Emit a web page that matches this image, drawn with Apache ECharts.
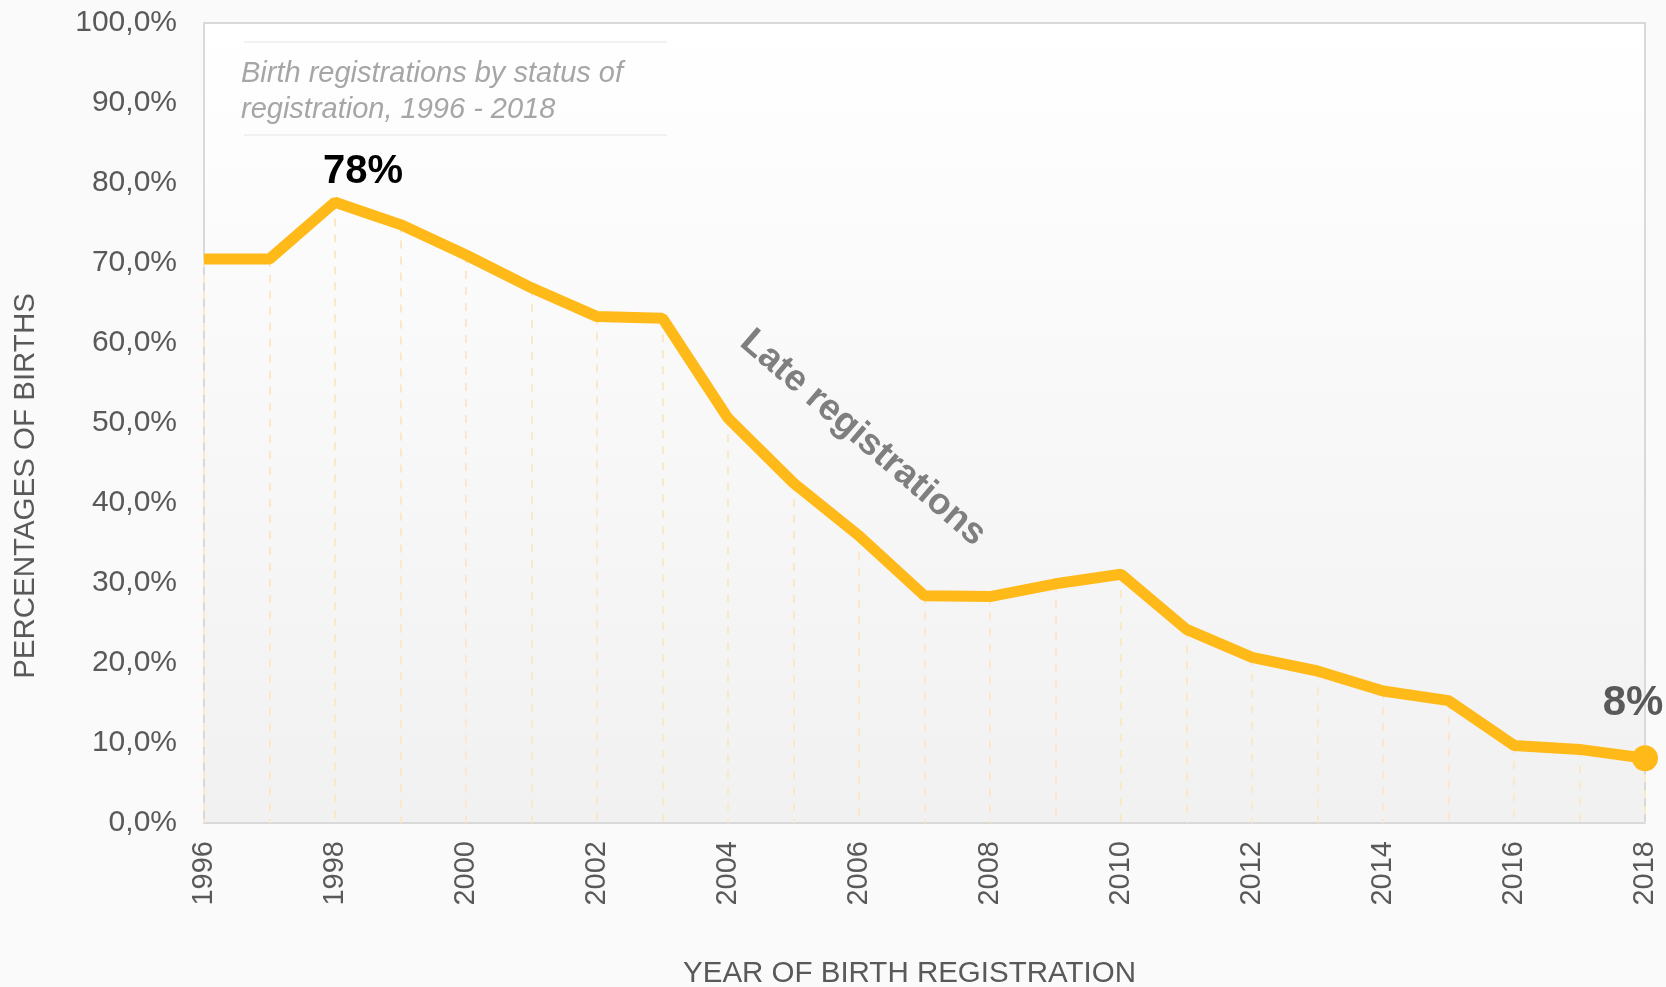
<!DOCTYPE html>
<html>
<head>
<meta charset="utf-8">
<script src="https://cdn.jsdelivr.net/npm/echarts@6/dist/echarts.min.js"></script>
<style>
  html, body { margin: 0; padding: 0; background: #fafafa; }
  #chart { width: 1666px; height: 987px; }
</style>
</head>
<body>
<div id="chart"></div>
<script>
var years = ['1996', '1997', '1998', '1999', '2000', '2001', '2002', '2003', '2004', '2005', '2006',
  '2007', '2008', '2009', '2010', '2011', '2012', '2013', '2014', '2015', '2016', '2017', '2018'];
var lateRegistrations = [70.5, 70.5, 77.6, 74.8, 71.0, 66.9, 63.3, 63.1, 50.6, 42.5, 35.9,
  28.4, 28.3, 29.9, 31.1, 24.2, 20.7, 19.0, 16.5, 15.3, 9.7, 9.2, 8.1];
var yTicks = [0, 10, 20, 30, 40, 50, 60, 70, 80, 90, 100];

var font = 'Liberation Sans, Arial, sans-serif';
var chart = echarts.init(document.getElementById('chart'));

var serieData = [];
var dropLines = [];
for (var i = 0; i < lateRegistrations.length; i++) {
  var item = { value: lateRegistrations[i] };
  if (years[i] == '1998') {
    item.label = {
      show: true, position: 'top', offset: [28, -5],
      formatter: '78%', fontSize: 40, fontWeight: 'bold', color: '#000', fontFamily: font
    };
  }
  if (i == lateRegistrations.length - 1) {
    item.symbolSize = 26;
    item.label = {
      show: true, position: 'top', offset: [-12, -16],
      formatter: '8%', fontSize: 42, fontWeight: 'bold', color: '#595959', fontFamily: font
    };
  }
  serieData.push(item);
  // dashed drop line from the point down to the axis
  dropLines.push([
    { coord: [years[i], lateRegistrations[i]] },
    { coord: [years[i], 0] }
  ]);
}

var option = {
  backgroundColor: '#fafafa',
  animation: false,
  title: {
    text: 'Birth registrations by status of\nregistration, 1996 - 2018',
    left: 236,
    top: 51,
    textStyle: {
      fontFamily: font, fontSize: 29, fontStyle: 'italic', fontWeight: 'normal',
      color: '#a6a6a6', lineHeight: 36
    }
  },
  grid: {
    left: 204,
    right: 21,
    top: 23,
    bottom: 164,
    containLabel: false,
    outerBoundsMode: 'none',
    show: true,
    borderColor: '#d9d9d9',
    borderWidth: 2,
    backgroundColor: new echarts.graphic.LinearGradient(0, 0, 0, 1, [
      { offset: 0, color: '#ffffff' },
      { offset: 1, color: '#f1f1f1' }
    ])
  },
  xAxis: {
    type: 'category',
    boundaryGap: false,
    data: years,
    name: 'YEAR OF BIRTH REGISTRATION',
    nameLocation: 'middle',
    nameGap: 136,
    nameTextStyle: { fontFamily: font, fontSize: 29.5, color: '#595959', padding: [0, 30, 0, 0] },
    axisLine: { show: true, lineStyle: { color: '#d9d9d9', width: 2 } },
    axisTick: { show: false },
    axisLabel: {
      interval: 1, rotate: 90, margin: 18,
      fontFamily: font, fontSize: 29, color: '#595959'
    },
    splitLine: { show: false }
  },
  yAxis: {
    type: 'value',
    min: yTicks[0],
    max: yTicks[yTicks.length - 1],
    interval: 10,
    name: 'PERCENTAGES OF BIRTHS',
    nameLocation: 'middle',
    nameGap: 163,
    nameTextStyle: { fontFamily: font, fontSize: 29.5, color: '#595959', padding: [0, 126, 0, 0] },
    axisLine: { show: false },
    axisTick: { show: false },
    splitLine: { show: false },
    axisLabel: {
      margin: 27, fontFamily: font, fontSize: 30, color: '#595959',
      formatter: function (v) { return v.toFixed(1).replace('.', ',') + '%'; }
    }
  },
  graphic: [
    {
      type: 'line', silent: true,
      shape: { x1: 244, y1: 42, x2: 667, y2: 42 },
      style: { stroke: '#ececec', lineWidth: 1.5 }
    },
    {
      type: 'line', silent: true,
      shape: { x1: 244, y1: 135, x2: 667, y2: 135 },
      style: { stroke: '#ececec', lineWidth: 1.5 }
    },
    {
      type: 'text', silent: true,
      x: 863, y: 438, rotation: -0.709,
      style: {
        text: 'Late registrations', align: 'center', verticalAlign: 'middle',
        font: 'bold 37px ' + font, fill: '#7f7f7f'
      }
    }
  ],
  series: [{
    name: 'Late registrations',
    type: 'line',
    z: 3,
    data: serieData,
    symbol: 'circle',
    symbolSize: 0,
    showSymbol: true,
    showAllSymbol: true,
    itemStyle: { color: '#ffba1a' },
    lineStyle: { color: '#ffba1a', width: 11 },
    emphasis: { disabled: true },
    silent: true,
    markLine: {
      silent: true,
      z: 1,
      symbol: ['none', 'none'],
      label: { show: false },
      lineStyle: { color: '#fbe8cb', type: [8, 8], width: 2 },
      emphasis: { disabled: true },
      data: dropLines
    }
  }]
};

chart.setOption(option);
</script>
</body>
</html>
